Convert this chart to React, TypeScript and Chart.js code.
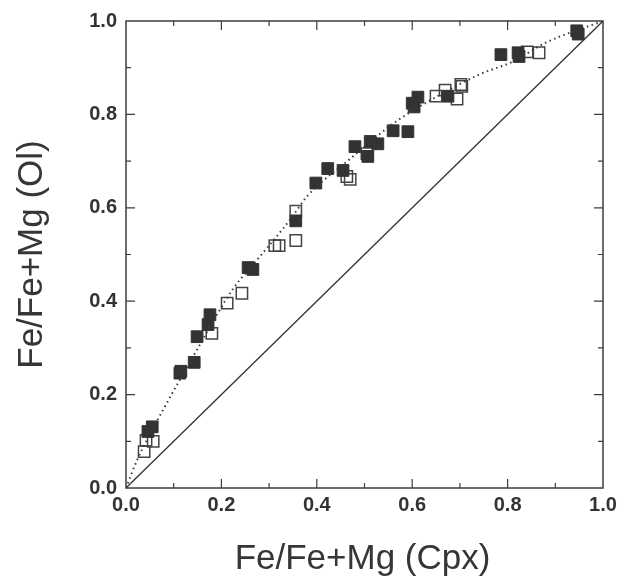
import React, { useEffect, useRef } from "react";
import { Chart, registerables } from "chart.js";

Chart.register(...registerables);

// Filled squares
const filledX = [0.046, 0.055, 0.113, 0.115, 0.143, 0.149, 0.172, 0.176, 0.256, 0.266, 0.356, 0.398, 0.423, 0.455, 0.48, 0.507, 0.512, 0.528, 0.56, 0.591, 0.6, 0.604, 0.612, 0.675, 0.786, 0.822, 0.824, 0.945, 0.948];
const filledY = [0.121, 0.131, 0.246, 0.25, 0.269, 0.324, 0.35, 0.371, 0.472, 0.468, 0.572, 0.653, 0.684, 0.68, 0.731, 0.71, 0.742, 0.737, 0.765, 0.763, 0.824, 0.816, 0.837, 0.839, 0.928, 0.932, 0.924, 0.979, 0.972];

// Open squares
const openX = [0.038, 0.042, 0.057, 0.18, 0.212, 0.243, 0.312, 0.321, 0.356, 0.356, 0.463, 0.47, 0.505, 0.65, 0.669, 0.694, 0.704, 0.702, 0.841, 0.866];
const openY = [0.078, 0.102, 0.1, 0.331, 0.396, 0.417, 0.519, 0.519, 0.53, 0.593, 0.667, 0.661, 0.716, 0.839, 0.852, 0.833, 0.86, 0.864, 0.934, 0.932];

// Dotted trend curve
const curveX = [0, 0.023, 0.09, 0.14, 0.19, 0.224, 0.275, 0.317, 0.35, 0.38, 0.47, 0.532, 0.568, 0.631, 0.742, 0.811, 0.883, 1];
const curveY = [0, 0.059, 0.19, 0.28, 0.37, 0.426, 0.489, 0.54, 0.583, 0.625, 0.705, 0.758, 0.786, 0.826, 0.886, 0.913, 0.955, 1];

// 1:1 line
const diagX = [0, 1];
const diagY = [0, 1];

const majorTicks = [0, 0.2, 0.4, 0.6, 0.8, 1.0];
const minorTicks = [0.1, 0.3, 0.5, 0.7, 0.9];

const xTitle = "Fe/Fe+Mg (Cpx)";
const yTitle = "Fe/Fe+Mg (Ol)";

const toPts = (xs: number[], ys: number[]) => xs.map((x, i) => ({ x, y: ys[i] }));

const framePlugin = {
  id: "frame",
  afterDatasetsDraw(chart: any) {
    const { ctx, chartArea } = chart;
    const { left, right, top, bottom } = chartArea;
    const xs = chart.scales.x;
    const ys = chart.scales.y;
    ctx.save();
    ctx.strokeStyle = "#3c3c3c";
    ctx.lineWidth = 1.5;
    ctx.strokeRect(left, top, right - left, bottom - top);
    ctx.lineWidth = 1.2;
    const draw = (vals: number[], len: number) => {
      vals.forEach((v) => {
        if (v === 0 || v === 1) return;
        const px = xs.getPixelForValue(v);
        const py = ys.getPixelForValue(v);
        ctx.beginPath();
        ctx.moveTo(px, bottom);
        ctx.lineTo(px, bottom - len);
        ctx.moveTo(px, top);
        ctx.lineTo(px, top + len);
        ctx.moveTo(left, py);
        ctx.lineTo(left + len, py);
        ctx.moveTo(right, py);
        ctx.lineTo(right - len, py);
        ctx.stroke();
      });
    };
    draw(majorTicks, 9);
    draw(minorTicks, 5);
    ctx.restore();
  },
  afterDraw(chart: any) {
    const { ctx, chartArea } = chart;
    ctx.save();
    ctx.fillStyle = "#363636";
    ctx.font = "35px 'Liberation Sans', Arial, sans-serif";
    ctx.textAlign = "center";
    ctx.textBaseline = "alphabetic";
    ctx.fillText(xTitle, (chartArea.left + chartArea.right) / 2 - 2, 569);
    ctx.translate(42, (chartArea.top + chartArea.bottom) / 2);
    ctx.rotate(-Math.PI / 2);
    ctx.fillText(yTitle, 0, 0);
    ctx.restore();
  },
};

export default function App() {
  const ref = useRef<HTMLCanvasElement | null>(null);
  useEffect(() => {
    document.body.style.margin = "0";
    const canvas = ref.current;
    if (!canvas) return;
    const tickFont = { family: "'Liberation Sans', Arial, sans-serif", size: 20, weight: "bold" as const };
    const chart = new Chart(canvas, {
      type: "scatter",
      data: {
        datasets: [
          {
            type: "line",
            data: toPts(diagX, diagY),
            borderColor: "#333",
            borderWidth: 1.3,
            pointRadius: 0,
            fill: false,
          } as any,
          {
            type: "line",
            data: toPts(curveX, curveY),
            borderColor: "#3a3a3a",
            borderWidth: 2,
            borderDash: [1.5, 3.5],
            cubicInterpolationMode: "monotone",
            pointRadius: 0,
            fill: false,
          } as any,
          {
            data: toPts(filledX, filledY),
            pointStyle: "rect",
            pointRadius: 8.3,
            backgroundColor: "#333",
            borderColor: "#333",
            borderWidth: 1,
          },
          {
            data: toPts(openX, openY),
            pointStyle: "rect",
            pointRadius: 8,
            backgroundColor: "rgba(0,0,0,0)",
            borderColor: "#444",
            borderWidth: 1.5,
          },
        ],
      },
      options: {
        animation: false,
        responsive: false,
        events: [],
        layout: { padding: { top: 16, right: 32, bottom: 0, left: 0 } },
        plugins: { legend: { display: false }, tooltip: { enabled: false } },
        scales: {
          x: {
            type: "linear",
            min: 0,
            max: 1,
            grid: { display: false, drawTicks: false },
            border: { display: false },
            ticks: {
              stepSize: 0.2,
              padding: 5,
              color: "#333",
              font: tickFont,
              callback: (v: any) => Number(v).toFixed(1),
            },
            afterFit: (s: any) => {
              s.height = 90;
            },
          },
          y: {
            type: "linear",
            min: 0,
            max: 1,
            grid: { display: false, drawTicks: false },
            border: { display: false },
            ticks: {
              stepSize: 0.2,
              padding: 9,
              color: "#333",
              font: tickFont,
              callback: (v: any) => Number(v).toFixed(1),
            },
            afterFit: (s: any) => {
              s.width = 126;
            },
          },
        },
      },
      plugins: [framePlugin],
    });
    return () => chart.destroy();
  }, []);
  return (
    <div style={{ width: 635, height: 578, background: "#fff" }}>
      <canvas ref={ref} width={635} height={578} style={{ display: "block" }} />
    </div>
  );
}
